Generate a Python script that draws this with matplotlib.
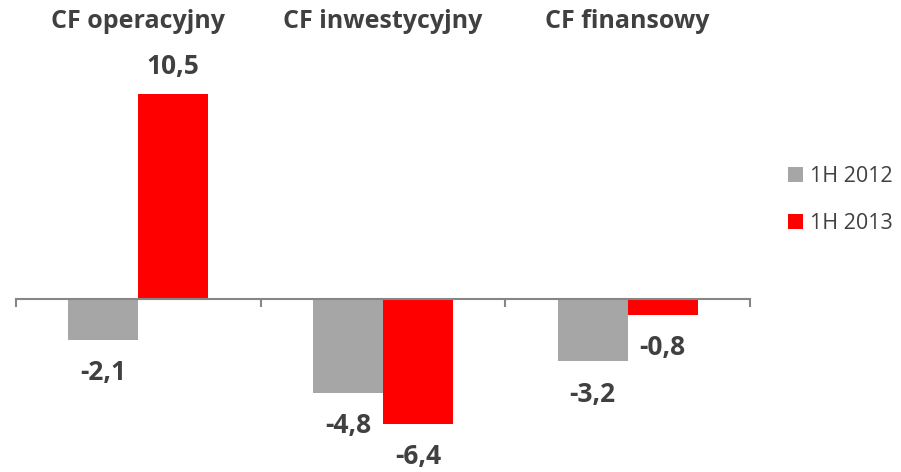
import matplotlib
matplotlib.use("Agg")
import matplotlib.pyplot as plt
import numpy as np

categories = ["CF operacyjny", "CF inwestycyjny", "CF finansowy"]
series_names = ["1H 2012", "1H 2013"]
values_2012 = [-2.1, -4.8, -3.2]
values_2013 = [10.5, -6.4, -0.8]
colors = ["#A6A6A6", "#FF0000"]

plt.rcParams['font.family'] = ['Open Sans', 'DejaVu Sans']
W, H = 901, 472
fig = plt.figure(figsize=(W / 100, H / 100), dpi=100)
ax = fig.add_axes([16 / W, 0, 734 / W, 1])

ppu = 19.5  # pixels per unit
zero_px = 299
ax.set_ylim(-(H - zero_px) / ppu, zero_px / ppu)
ax.set_xlim(-0.5, len(categories) - 0.5)

x = np.arange(len(categories))
bw = 0.286
text_color = "#404040"
for k, (vals, col, name) in enumerate(zip([values_2012, values_2013], colors, series_names)):
    pos = x + (k - 0.5) * bw
    bars = ax.bar(pos, vals, width=bw, color=col, label=name, zorder=2)
    for xi, v in zip(pos, vals):
        off = 28 if v > 0 else -33
        ax.annotate(f"{v:.1f}".replace(".", ","), (xi, v), xytext=(0, off * 0.72),
                    textcoords="offset points", ha="center", va="center",
                    fontsize=19, fontweight="bold", color=text_color)

for xi, c in zip(x, categories):
    ax.text(xi, 1 - 22 / H, c, transform=ax.get_xaxis_transform(), ha="center", va="center",
            fontsize=18, fontweight="bold", color=text_color)

for s in ["top", "right", "left"]:
    ax.spines[s].set_visible(False)
ax.spines["bottom"].set_position(("data", 0))
ax.spines["bottom"].set_color("#868686")
ax.spines["bottom"].set_linewidth(1.5)
ax.spines["bottom"].set_zorder(3)
ax.set_yticks([])
ax.set_xticks(np.arange(-0.5, len(categories), 1.0))
ax.tick_params(axis="x", direction="out", length=8 * 0.72, width=1.5, color="#868686",
               labelbottom=False)

fig.legend(loc="center left", bbox_to_anchor=(777 / W, 1 - 200 / H), frameon=False,
           fontsize=15.5, handlelength=0.7, handleheight=0.7, handletextpad=0.33,
           labelspacing=1.2, labelcolor=text_color, borderpad=0)

fig.savefig("out.png", dpi=100)
